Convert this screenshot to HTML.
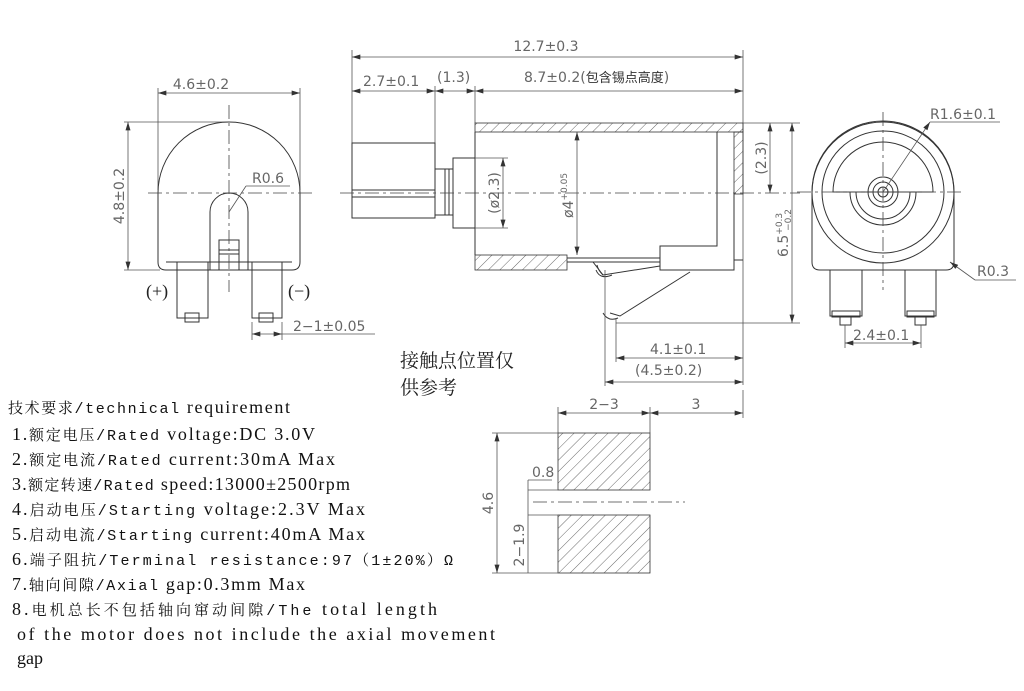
<!DOCTYPE html>
<html><head><meta charset="utf-8"><style>
html,body{margin:0;padding:0;background:#fff;}
svg{display:block}
.l{stroke:#333;stroke-width:1;fill:none}
.t{stroke:#555;stroke-width:0.8;fill:none}
.c{stroke:#444;stroke-width:0.8;fill:none;stroke-dasharray:14 4 3 4}
.d{font-family:"DejaVu Sans","Liberation Sans",sans-serif;font-size:14px;fill:#666}
.m{font-family:"Liberation Mono","Noto Serif CJK SC",monospace;font-size:15px}
.s{font-family:"Liberation Serif","Noto Serif CJK SC",serif;font-size:18px}
.r{fill:#111}
</style></head><body>
<svg width="1024" height="691" viewBox="0 0 1024 691" xmlns="http://www.w3.org/2000/svg">
<defs>
<marker id="a" viewBox="0 0 10 6" refX="10" refY="3" markerWidth="9" markerHeight="5" orient="auto-start-reverse" markerUnits="userSpaceOnUse"><path d="M0,0L10,3L0,6z" fill="#333"/></marker>
<pattern id="h" patternUnits="userSpaceOnUse" width="8" height="8" patternTransform="rotate(45)"><line x1="0" y1="0" x2="0" y2="8" stroke="#444" stroke-width="0.8"/></pattern>
</defs>

<!-- LEFT VIEW -->
<line class="t" x1="158" y1="93" x2="300" y2="93" marker-start="url(#a)" marker-end="url(#a)"/>
<line class="t" x1="158" y1="88" x2="158" y2="190"/><line class="t" x1="300" y1="88" x2="300" y2="190"/>
<text class="d" x="201" y="89" text-anchor="middle">4.6±0.2</text>
<line class="t" x1="128" y1="122" x2="128" y2="270" marker-start="url(#a)" marker-end="url(#a)"/>
<line class="t" x1="124" y1="122" x2="229" y2="122"/><line class="t" x1="124" y1="270" x2="160" y2="270"/>
<text class="d" transform="translate(124,196) rotate(-90)" text-anchor="middle">4.8±0.2</text>
<path class="l" d="M158,193 A71,71 0 0 1 300,193 L300,262 Q300,270 292,270 L166,270 Q158,270 158,262 Z"/>
<path class="l" d="M210,270 L210,212 A19,19 0 0 1 248,212 L248,270"/>
<rect class="l" x="219" y="240" width="20" height="30"/>
<line class="l" x1="219" y1="250" x2="239" y2="250"/><line class="l" x1="219" y1="254" x2="239" y2="254"/>
<line class="l" x1="166" y1="262" x2="292" y2="262"/>
<rect class="l" x="177" y="262" width="31" height="56"/>
<rect class="l" x="252" y="262" width="30" height="56"/>
<rect class="l" x="185" y="313" width="14" height="9"/><rect class="l" x="259" y="313" width="14" height="9"/>
<line class="c" x1="229" y1="105" x2="229" y2="292"/>
<line class="c" x1="148" y1="193" x2="312" y2="193"/>
<line class="t" x1="229" y1="212" x2="246" y2="186"/>
<text class="d" x="252" y="183">R0.6</text><line class="t" x1="246" y1="186" x2="290" y2="186"/>
<text class="s" x="146" y="297" font-size="17" fill="#222">(+)</text>
<text class="s" x="288" y="297" font-size="17" fill="#222">(−)</text>
<line class="t" x1="252" y1="322" x2="252" y2="340"/><line class="t" x1="282" y1="322" x2="282" y2="340"/>
<line class="t" x1="252" y1="334" x2="282" y2="334" marker-start="url(#a)" marker-end="url(#a)"/>
<line class="t" x1="282" y1="334" x2="375" y2="334"/>
<text class="d" x="293" y="331">2−1±0.05</text>

<!-- SIDE VIEW -->
<line class="t" x1="352" y1="57" x2="743" y2="57" marker-start="url(#a)" marker-end="url(#a)"/>
<text class="d" x="546" y="51" text-anchor="middle">12.7±0.3</text>
<line class="t" x1="352" y1="50" x2="352" y2="218"/><line class="t" x1="743" y1="50" x2="743" y2="385"/>
<line class="t" x1="352" y1="91" x2="435" y2="91" marker-start="url(#a)" marker-end="url(#a)"/>
<line class="t" x1="435" y1="91" x2="475" y2="91" marker-start="url(#a)" marker-end="url(#a)"/>
<line class="t" x1="475" y1="91" x2="743" y2="91" marker-start="url(#a)" marker-end="url(#a)"/>
<line class="t" x1="435" y1="86" x2="435" y2="143"/><line class="t" x1="475" y1="86" x2="475" y2="123"/>
<text class="d" x="363" y="86">2.7±0.1</text><text class="d" x="437" y="82">(1.3)</text>
<text class="d" x="524" y="82">8.7±0.2(<tspan font-family="Noto Sans CJK SC" font-size="13" fill="#333">包含锡点高度</tspan>)</text>
<rect class="l" x="352" y="143" width="83" height="75"/>
<line class="l" x1="352" y1="190" x2="435" y2="190"/><line class="l" x1="352" y1="197" x2="435" y2="197"/>
<rect class="l" x="435" y="169" width="18" height="46"/>
<line class="l" x1="445" y1="169" x2="445" y2="215"/><line class="l" x1="449" y1="169" x2="449" y2="215"/>
<rect class="l" x="453" y="158" width="22" height="70"/>
<rect x="475" y="123" width="268" height="9" fill="url(#h)" stroke="#333" stroke-width="0.8"/>
<rect x="734" y="132" width="9" height="62" fill="url(#h)" stroke="#333" stroke-width="0.8"/>
<rect x="475" y="255" width="92" height="15" fill="url(#h)" stroke="#333" stroke-width="0.8"/>
<line class="l" x1="475" y1="132" x2="475" y2="255"/>
<path class="l" d="M717,132 L717,246 L660,246 L660,270 L734,270 L734,194"/>
<line class="l" x1="567" y1="258" x2="660" y2="258"/>
<line class="l" x1="567" y1="262" x2="660" y2="262"/>
<line class="l" x1="734" y1="260" x2="743" y2="260"/>
<path class="l" d="M593,262 L603,275 L660,266"/>
<path class="l" d="M603,275 Q598,270 597,265 M596,270 Q600,280 612,275"/>
<path class="l" d="M690,272 L620,316 L610,313"/>
<path class="l" d="M603,313 Q608,322 618,318"/>
<line class="c" x1="340" y1="193" x2="800" y2="193"/>
<line class="t" x1="577" y1="132" x2="577" y2="255" marker-start="url(#a)" marker-end="url(#a)"/>
<text class="d" transform="translate(573,218) rotate(-90)">ø4<tspan font-size="9" dy="-6">+0.05</tspan></text>
<line class="t" x1="503" y1="158" x2="503" y2="228" marker-start="url(#a)" marker-end="url(#a)"/>
<line class="t" x1="475" y1="158" x2="508" y2="158"/><line class="t" x1="475" y1="228" x2="508" y2="228"/>
<text class="d" transform="translate(499,193) rotate(-90)" text-anchor="middle">(ø2.3)</text>
<line class="t" x1="770" y1="123" x2="770" y2="193" marker-start="url(#a)" marker-end="url(#a)"/>
<line class="t" x1="743" y1="123" x2="800" y2="123"/>
<text class="d" transform="translate(766,158) rotate(-90)" text-anchor="middle">(2.3)</text>
<line class="t" x1="792" y1="123" x2="792" y2="323" marker-start="url(#a)" marker-end="url(#a)"/>
<line class="t" x1="616" y1="323" x2="800" y2="323"/>
<text class="d" transform="translate(788,233) rotate(-90)" text-anchor="middle">6.5<tspan font-size="9" dy="-6">+0.3</tspan><tspan font-size="9" dy="9" dx="-18">−0.2</tspan></text>
<line class="t" x1="616" y1="318" x2="616" y2="362"/><line class="t" x1="605" y1="270" x2="605" y2="386"/>
<line class="t" x1="616" y1="358" x2="743" y2="358" marker-start="url(#a)" marker-end="url(#a)"/>
<line class="t" x1="605" y1="382" x2="743" y2="382" marker-start="url(#a)" marker-end="url(#a)"/>
<text class="d" x="650" y="354">4.1±0.1</text><text class="d" x="635" y="375">(4.5±0.2)</text>
<text x="400" y="367" font-family="Noto Serif CJK SC" font-size="19" fill="#222">接触点位置仅</text>
<text x="400" y="394" font-family="Noto Serif CJK SC" font-size="19" fill="#222">供参考</text>

<!-- RIGHT VIEW -->
<path class="l" d="M812,193 A71,71 0 0 1 954,193 L954,262 Q954,270 946,270 L820,270 Q812,270 812,262 Z"/>
<circle class="l" cx="883" cy="192" r="71"/>
<circle class="l" cx="883" cy="192" r="61"/>
<path class="l" d="M833,192 A50,50 0 0 1 933,192 Z"/>
<path class="l" d="M850,192 A33,33 0 0 0 916,192"/>
<path class="l" d="M856,192 A27,27 0 0 0 910,192"/>
<circle class="l" cx="883" cy="192" r="15"/><circle class="l" cx="883" cy="192" r="10"/><circle class="l" cx="883" cy="192" r="5"/>
<line class="c" x1="883" y1="112" x2="883" y2="290"/>
<line class="c" x1="797" y1="192" x2="963" y2="192"/>
<rect class="l" x="830" y="270" width="32" height="46"/><rect class="l" x="905" y="270" width="31" height="46"/>
<rect class="l" x="832" y="311" width="28" height="6"/><rect class="l" x="907" y="311" width="27" height="6"/>
<rect class="l" x="840" y="317" width="11" height="8"/><rect class="l" x="915" y="317" width="11" height="8"/>
<line class="t" x1="845" y1="325" x2="845" y2="348"/><line class="t" x1="921" y1="325" x2="921" y2="348"/>
<line class="t" x1="845" y1="343" x2="921" y2="343" marker-start="url(#a)" marker-end="url(#a)"/>
<text class="d" x="853" y="340">2.4±0.1</text>
<line class="t" x1="883" y1="192" x2="930" y2="122" marker-end="url(#a)"/>
<line class="t" x1="930" y1="122" x2="1000" y2="122"/>
<text class="d" x="930" y="119">R1.6±0.1</text>
<line class="t" x1="950" y1="262" x2="975" y2="280" marker-start="url(#a)"/>
<line class="t" x1="975" y1="280" x2="1016" y2="280"/>
<text class="d" x="977" y="276">R0.3</text>

<!-- FOOTPRINT -->
<line class="t" x1="558" y1="407" x2="558" y2="433"/><line class="t" x1="650" y1="407" x2="650" y2="433"/>
<line class="t" x1="743" y1="390" x2="743" y2="418"/>
<line class="t" x1="558" y1="413" x2="650" y2="413" marker-start="url(#a)" marker-end="url(#a)"/>
<line class="t" x1="650" y1="413" x2="743" y2="413" marker-start="url(#a)" marker-end="url(#a)"/>
<text class="d" x="604" y="409" text-anchor="middle">2−3</text><text class="d" x="696" y="409" text-anchor="middle">3</text>
<rect x="558" y="433" width="92" height="57" fill="url(#h)" stroke="#333" stroke-width="0.8"/>
<rect x="558" y="515" width="92" height="58" fill="url(#h)" stroke="#333" stroke-width="0.8"/>
<line class="c" x1="533" y1="502" x2="685" y2="502"/>
<line class="t" x1="492" y1="433" x2="558" y2="433"/><line class="t" x1="492" y1="573" x2="558" y2="573"/>
<line class="t" x1="497" y1="433" x2="497" y2="573" marker-start="url(#a)" marker-end="url(#a)"/>
<text class="d" transform="translate(493,503) rotate(-90)" text-anchor="middle">4.6</text>
<line class="t" x1="528" y1="490" x2="558" y2="490"/><line class="t" x1="528" y1="515" x2="558" y2="515"/>
<line class="t" x1="528" y1="480" x2="528" y2="573"/>
<line class="t" x1="528" y1="480" x2="552" y2="480"/>
<text class="d" x="532" y="477">0.8</text>
<text class="d" transform="translate(524,545) rotate(-90)" text-anchor="middle">2−1.9</text>

<!-- REQUIREMENTS -->
<g class="r">
<text x="8" y="413" textLength="282" lengthAdjust="spacing"><tspan class="m">技术要求/technical</tspan><tspan class="s"> requirement</tspan></text>
<text x="12" y="440" textLength="303" lengthAdjust="spacing"><tspan class="s">1.</tspan><tspan class="m">额定电压/Rated</tspan><tspan class="s"> voltage:DC  3.0V</tspan></text>
<text x="12" y="465" textLength="323" lengthAdjust="spacing"><tspan class="s">2.</tspan><tspan class="m">额定电流/Rated</tspan><tspan class="s"> current:30mA  Max</tspan></text>
<text x="12" y="490" textLength="338" lengthAdjust="spacing"><tspan class="s">3.</tspan><tspan class="m">额定转速/Rated</tspan><tspan class="s"> speed:13000±2500rpm</tspan></text>
<text x="12" y="515" textLength="353" lengthAdjust="spacing"><tspan class="s">4.</tspan><tspan class="m">启动电压/Starting</tspan><tspan class="s"> voltage:2.3V    Max</tspan></text>
<text x="12" y="540" textLength="353" lengthAdjust="spacing"><tspan class="s">5.</tspan><tspan class="m">启动电流/Starting</tspan><tspan class="s"> current:40mA  Max</tspan></text>
<text x="12" y="565" textLength="441" lengthAdjust="spacing"><tspan class="s">6.</tspan><tspan class="m">端子阻抗/Terminal resistance:97（1±20%）Ω</tspan></text>
<text x="12" y="590" textLength="293" lengthAdjust="spacing"><tspan class="s">7.</tspan><tspan class="m">轴向间隙/Axial</tspan><tspan class="s"> gap:0.3mm  Max</tspan></text>
<text x="12" y="615" textLength="425" lengthAdjust="spacing"><tspan class="s">8.</tspan><tspan class="m">电机总长不包括轴向窜动间隙/The</tspan><tspan class="s"> total   length</tspan></text>
<text x="17" y="640" textLength="478" lengthAdjust="spacing" class="s">of the motor does not include the axial movement</text>
<text x="17" y="664" class="s">gap</text>
</g>
</svg>
</body></html>
